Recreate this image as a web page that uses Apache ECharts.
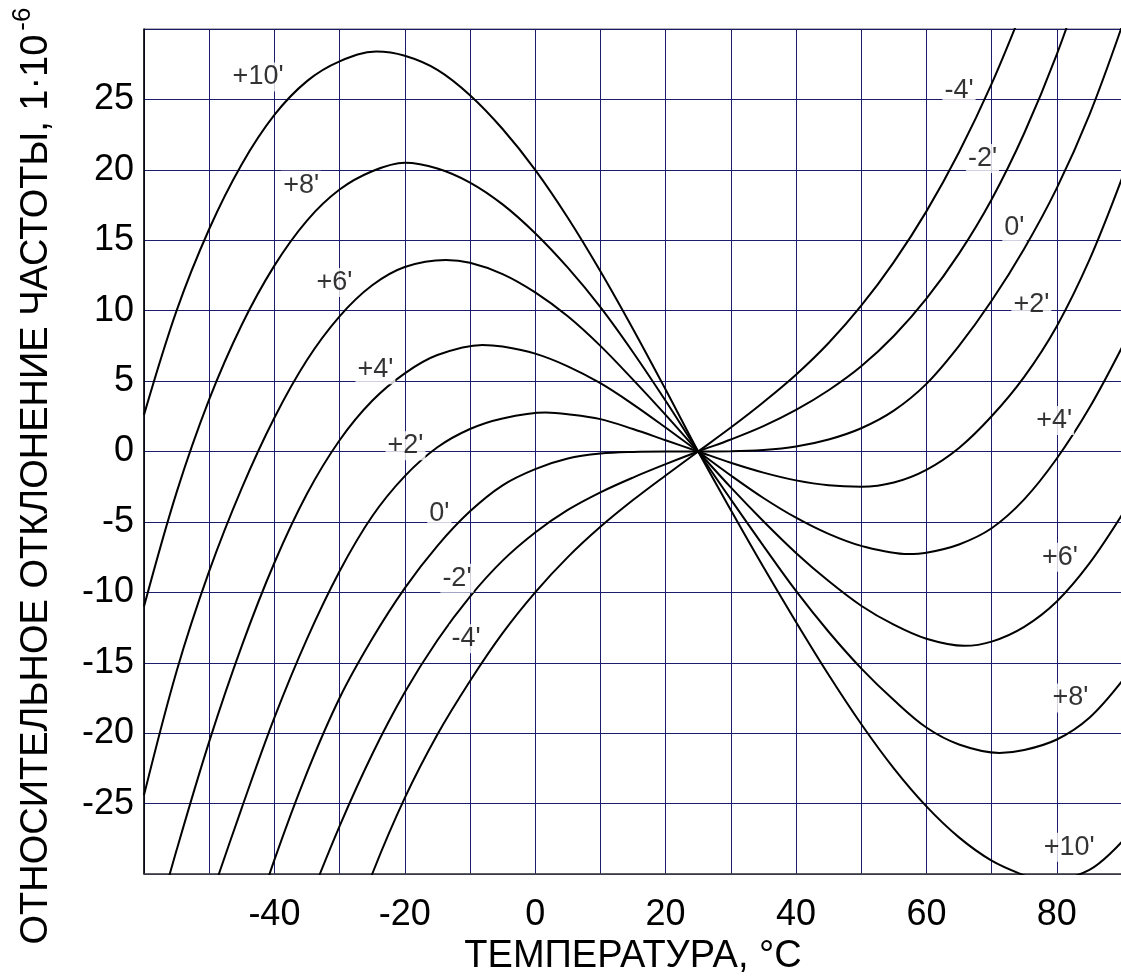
<!DOCTYPE html>
<html><head><meta charset="utf-8">
<script src="https://cdn.jsdelivr.net/npm/echarts@6/dist/echarts.min.js"></script>
<style>html,body{margin:0;padding:0;background:#fff}#c{width:1121px;height:976px}</style>
</head><body><div id="c"></div><script>
// Temperature grid (°C)
const temps = [-60,-55,-50,-45,-40,-35,-30,-25,-20,-15,-10,-5,0,5,10,15,20,25,30,35,40,45,50,55,60,65,70,75,80,85,90];
// Relative frequency deviation (1e-6) for each cut-angle deviation
// (null = not read at that temperature; the turning point is given below instead)
const p10 = [2.6,10.0,15.8,20.4,23.9,26.3,27.7,null,28.1,27.1,25.3,22.9,20.0,16.6,12.8,8.7,4.4,0,-4.15,-8.2,-12.1,-15.85,-19.35,-22.5,-25.2,-27.4,-29.05,-30.1,null,-29.7,-27.7];
const p8  = [-11.0,-2.9,3.7,9.0,13.2,16.4,18.6,19.9,20.5,20.1,19.1,17.55,15.5,13.05,10.25,7.05,3.6,0,-3.4,-6.7,-9.9,-12.8,-15.4,-17.65,-19.6,-20.8,null,-21.2,-20.45,-18.9,-16.3];
const p6  = [-24.4,-15.6,-8.5,-2.6,2.4,6.5,9.6,11.8,13.1,null,13.4,12.6,11.3,9.6,7.5,5.1,2.6,0,-2.55,-4.95,-7.2,-9.2,-10.95,-12.3,-13.3,null,-13.5,-12.45,-10.65,-7.95,-4.5];
const p4  = [-36.5,-28.3,-20.6,-13.8,-7.9,-3.0,0.8,3.6,5.55,6.85,null,7.45,6.95,6.05,4.85,3.35,1.7,0,-1.7,-3.3,-4.7,-5.85,-6.7,null,-7.19,-6.6,-5.45,-3.4,-0.5,3.1,7.4];
const p2  = [null,null,-32.0,-25.3,-18.9,-13.3,-8.5,-4.6,-1.75,0.3,1.6,2.35,null,2.65,2.3,1.6,0.8,0,-0.8,-1.5,-2.05,-2.4,-2.5,-2.2,-1.3,0.25,2.5,5.3,8.9,13.6,19.4];
const z0  = [null,null,null,-36.0,-29.0,-22.8,-17.5,-13.3,-9.7,-6.7,-4.25,-2.4,-1.25,-0.5,-0.15,-0.03,0,0,0.01,0.1,0.35,0.85,1.65,2.9,4.8,7.5,10.7,14.4,18.7,23.9,30.2];
const m2  = [null,null,null,null,null,-32.3,-26.6,-21.5,-17.1,-13.4,-10.3,-7.75,-5.75,-4.15,-2.9,-1.85,-0.9,0,0.85,1.8,2.95,4.35,6.05,8.2,10.85,14.05,17.9,22.6,28.2,34.8,null];
const m4  = [null,null,null,null,null,null,-36.3,-30.0,-24.6,-20.1,-16.3,-12.9,-10.0,-7.5,-5.35,-3.45,-1.7,0,1.7,3.5,5.45,7.7,10.35,13.45,17.05,21.25,26.1,31.7,null,null,null];
const curves = [p10,p8,p6,p4,p2,z0,m2,m4];
const curveNames = ["+10'","+8'","+6'","+4'","+2'","0'","-2'","-4'"];
// Turning points (temperature, value) for each curve
const extremaT = [[-24.4,78],[71.2],[-13.7,65.8],[-8.1,57.2],[1.6],[],[],[]];
const extremaV = [[28.4,-30.55],[-21.4],[13.6,-13.8],[7.57,-7.28],[2.77],[],[],[]];

// Curve labels (text, temperature, value)
const labelText = ["+10'","+8'","+6'","+4'","+2'","0'","-2'","-4'","-4'","-2'","0'","+2'","+4'","+6'","+8'","+10'"];
const labelT    = [-42.5,-35.9,-30.8,-24.5,-19.9,-14.7,-12.0,-10.6,65.0,68.6,73.5,76.1,79.6,80.5,82.1,81.9];
const labelV    = [26.6,18.9,12.0,5.8,0.4,-4.4,-9.0,-13.3,25.6,20.8,15.9,10.4,2.2,-7.5,-17.5,-28.1];

// Tick labels
const xTickLabels = [-40,-20,0,20,40,60,80];
const yTickLabels = [-25,-20,-15,-10,-5,0,5,10,15,20,25];

const FONT = "'Liberation Sans', Arial, sans-serif";
const GRIDC = '#1c1c6c';

const series = curves.map((vals, k) => {
  const pts = temps.map((t, i) => [t, vals[i]]).filter(p => p[1] !== null)
    .concat(extremaT[k].map((t, j) => [t, extremaV[k][j]]))
    .sort((a, b) => a[0] - b[0]);
  return {
    name: curveNames[k],
    type: 'line',
    data: pts,
    smooth: 0.35,
    showSymbol: false,
    symbol: 'none',
    lineStyle: { color: '#000', width: 2 },
    itemStyle: { color: '#000' },
    emphasis: { disabled: true },
    z: 3,
    silent: true
  };
});
series.push({
  type: 'scatter',
  symbolSize: 1,
  itemStyle: { color: 'rgba(0,0,0,0)' },
  data: labelText.map((s, i) => ({ name: s, value: [labelT[i], labelV[i]] })),
  label: {
    show: true, formatter: '{b}', position: 'inside',
    fontFamily: FONT, fontSize: 27, color: '#000',
    backgroundColor: '#fff', padding: [1, 2]
  },
  emphasis: { disabled: true },
  z: 10,
  silent: true
});

const chart = echarts.init(document.getElementById('c'), null, { renderer: 'canvas' });
chart.setOption({
  animation: false,
  backgroundColor: '#fff',
  grid: { left: 144, top: 29, width: 978, height: 845, show: true, borderColor: '#666', borderWidth: 1, containLabel: false, outerBoundsMode: 'none' },
  xAxis: {
    type: 'value', min: -60, max: 90, interval: 10,
    axisLine: { show: true, onZero: false, lineStyle: { color: '#444', width: 1.5 } },
    axisTick: { show: false },
    splitLine: { show: true, lineStyle: { color: GRIDC, width: 1 } },
    axisLabel: {
      margin: 23, fontFamily: FONT, fontSize: 36, color: '#000',
      showMinLabel: true, showMaxLabel: true,
      formatter: v => xTickLabels.includes(v) ? String(v) : ''
    },
    name: 'ТЕМПЕРАТУРА, °C', nameLocation: 'middle', nameGap: 59,
    nameTextStyle: { fontFamily: FONT, fontSize: 38, color: '#000' }
  },
  yAxis: {
    type: 'value', min: -30, max: 30, interval: 5,
    axisLine: { show: true, onZero: false, lineStyle: { color: '#000', width: 1.5 } },
    axisTick: { show: false },
    splitLine: { show: true, lineStyle: { color: GRIDC, width: 1 } },
    axisLabel: {
      margin: 10, fontFamily: FONT, fontSize: 36, color: '#000',
      showMinLabel: true, showMaxLabel: true,
      formatter: v => yTickLabels.includes(v) ? String(v) : ''
    }
  },
  graphic: [{
    type: 'text', x: 33, y: 476, rotation: Math.PI / 2, silent: true,
    style: {
      text: '{a|ОТНОСИТЕЛЬНОЕ ОТКЛОНЕНИЕ ЧАСТОТЫ, 1·10}{b|-6}',
      align: 'center', verticalAlign: 'middle', fill: '#000',
      rich: {
        a: { fontFamily: FONT, fontSize: 38, lineHeight: 46, verticalAlign: 'bottom', fill: '#000', color: '#000' },
        b: { fontFamily: FONT, fontSize: 26, lineHeight: 46, verticalAlign: 'top', fill: '#000', color: '#000', padding: [0, 0, 0, 4] }
      }
    }
  }],
  series: series
});
</script></body></html>
